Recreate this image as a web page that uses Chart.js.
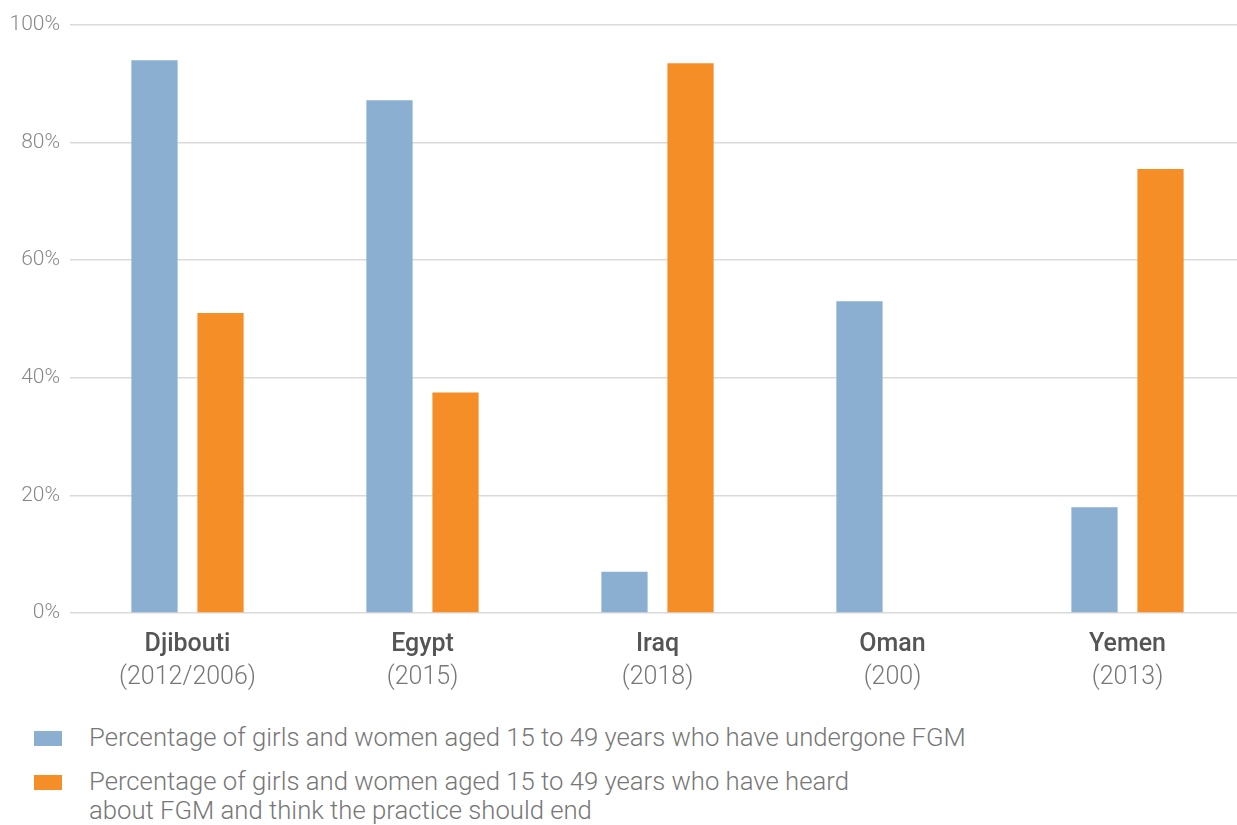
<!DOCTYPE html>
<html>
<head>
<meta charset="utf-8">
<script src="https://cdn.jsdelivr.net/npm/chart.js@4"></script>
<style>
    html, body { margin: 0; padding: 0; background: #fff; overflow: hidden; }
    #wrap { position: absolute; left: 0; top: 0; width: 1245px; height: 705px; }
    #legend { position: absolute; left: 34px; top: 723px; font-family: Roboto, sans-serif; font-weight: 300; font-size: 25.7px; color: #777; }
    .item { display: flex; align-items: flex-start; margin-bottom: 15px; }
    .sw { width: 28px; height: 15px; margin-top: 8px; margin-right: 27px; flex: none; }
    .txt { line-height: 29px; white-space: pre; }
</style>
</head>
<body>
<div id="wrap"><canvas id="fgmChart"></canvas></div>
<div id="legend"></div>
<script>
const countries = ['Djibouti', 'Egypt', 'Iraq', 'Oman', 'Yemen'];
const years = ['(2012/2006)', '(2015)', '(2018)', '(200)', '(2013)'];
const undergone = [94, 87.2, 7, 53, 18];
const thinkShouldEnd = [51, 37.5, 93.5, null, 75.5];
const yTicks = [0, 20, 40, 60, 80, 100];
const seriesNames = [
    'Percentage of girls and women aged 15 to 49 years who have undergone FGM',
    'Percentage of girls and women aged 15 to 49 years who have heard\nabout FGM and think the practice should end'
];
const colors = ['#8aafd0', '#f68e27'];

// draw two-line category labels (name + year) under each bar group
const categoryLabels = {
    id: 'categoryLabels',
    afterDraw(chart) {
        const ctx = chart.ctx;
        const x = chart.scales.x;
        ctx.save();
        ctx.textAlign = 'center';
        ctx.textBaseline = 'middle';
        countries.forEach((name, i) => {
            const px = x.getPixelForValue(i);
            ctx.fillStyle = '#555';
            ctx.font = '500 25px Roboto';
            ctx.fillText(name, px, 645);
            ctx.fillStyle = '#777';
            ctx.font = '300 25px Roboto';
            ctx.fillText(years[i], px, 678);
        });
        ctx.restore();
    }
};

const ctx = document.getElementById('fgmChart').getContext('2d');
new Chart(ctx, {
    type: 'bar',
    data: {
        labels: countries,
        datasets: [
            {
                label: seriesNames[0],
                data: undergone,
                backgroundColor: colors[0],
                categoryPercentage: 0.562,
                barPercentage: 0.7
            },
            {
                label: seriesNames[1],
                data: thinkShouldEnd,
                backgroundColor: colors[1],
                categoryPercentage: 0.562,
                barPercentage: 0.7
            }
        ]
    },
    options: {
        responsive: true,
        maintainAspectRatio: false,
        animation: false,
        layout: {
            padding: { top: 25, bottom: 92, left: 0, right: 0 }
        },
        plugins: {
            legend: { display: false },
            tooltip: { enabled: false }
        },
        scales: {
            x: {
                grid: { display: false, drawTicks: false },
                border: { display: false },
                ticks: { display: false }
            },
            y: {
                min: 0,
                max: 100,
                afterFit: (scale) => { scale.width = 70; },
                afterBuildTicks: (scale) => {
                    scale.ticks = yTicks.map(v => ({ value: v }));
                },
                grid: { color: '#dadada', lineWidth: 1.5, drawTicks: false },
                border: { display: false },
                ticks: {
                    padding: 10,
                    color: '#888',
                    font: { family: 'Roboto', weight: '300', size: 21 },
                    callback: (value) => value + '%'
                }
            }
        }
    },
    plugins: [categoryLabels]
});

// HTML legend so the long second label breaks like the original
const legend = document.getElementById('legend');
seriesNames.forEach((name, i) => {
    const item = document.createElement('div');
    item.className = 'item';
    item.innerHTML = '<div class="sw" style="background:' + colors[i] + '"></div><div class="txt"></div>';
    item.querySelector('.txt').textContent = name;
    legend.appendChild(item);
});
</script>
</body>
</html>
